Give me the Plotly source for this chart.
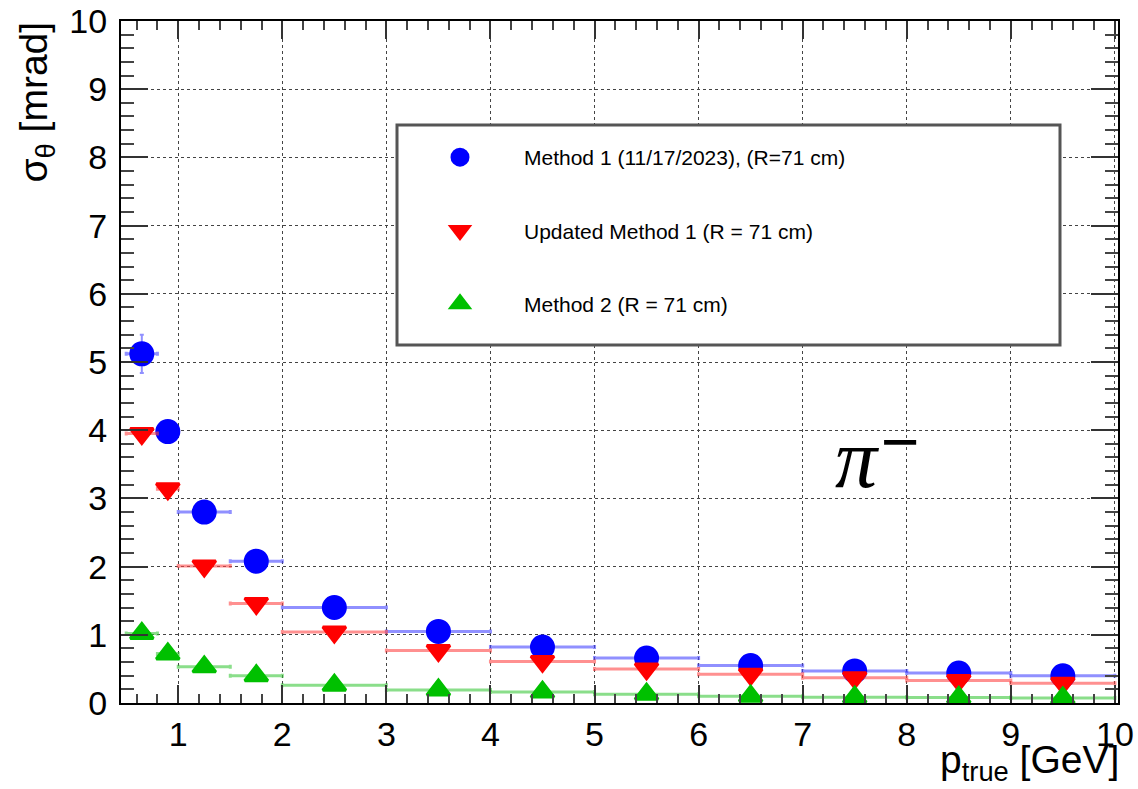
import plotly.graph_objects as go

# ---- data ----
bin_edges = [0.5, 0.8, 1.0, 1.5, 2.0, 3.0, 4.0, 5.0, 6.0, 7.0, 8.0, 9.0, 10.0]
p_centers = [(a + b) / 2 for a, b in zip(bin_edges[:-1], bin_edges[1:])]
p_halfwidth = [(b - a) / 2 for a, b in zip(bin_edges[:-1], bin_edges[1:])]

method1 = [5.12, 3.98, 2.80, 2.08, 1.40, 1.05, 0.82, 0.66, 0.55, 0.47, 0.44, 0.40]
method1_err = [0.28, 0.06, 0.05, 0.04, 0.03, 0.02, 0.02, 0.02, 0.02, 0.02, 0.02, 0.02]
updated1 = [3.95, 3.14, 2.01, 1.46, 1.04, 0.77, 0.61, 0.50, 0.42, 0.37, 0.33, 0.29]
updated1_err = [0.05, 0.05, 0.03, 0.03, 0.02, 0.02, 0.02, 0.02, 0.01, 0.01, 0.01, 0.01]
method2 = [1.02, 0.72, 0.53, 0.40, 0.26, 0.19, 0.16, 0.13, 0.10, 0.085, 0.08, 0.075]
method2_err = [0.03, 0.03, 0.02, 0.02, 0.01, 0.01, 0.01, 0.01, 0.01, 0.01, 0.01, 0.01]

names = ["Method 1 (11/17/2023), (R=71 cm)",
         "Updated Method 1 (R = 71 cm)",
         "Method 2 (R = 71 cm)"]
series = [method1, updated1, method2]
errors = [method1_err, updated1_err, method2_err]
colors = ["#0000ff", "#ff0000", "#00c000"]
err_colors = ["rgba(70,70,255,0.6)", "rgba(255,70,70,0.6)", "rgba(60,200,60,0.6)"]
symbols = ["circle", "triangle-down", "triangle-up"]
sizes = [22, 20, 20]

fig = go.Figure()
for i in range(3):
    fig.add_trace(go.Scatter(
        x=p_centers, y=series[i], mode="markers", name=names[i],
        legendgroup="g%d" % i,
        marker=dict(symbol=symbols[i], size=sizes[i], color=colors[i],
                    line=dict(color=colors[i], width=3)),
        error_x=dict(type="data", array=p_halfwidth, color=err_colors[i],
                     thickness=3, width=2),
        error_y=dict(type="data", array=errors[i], color=err_colors[i],
                     thickness=2, width=2),
        cliponaxis=False,
    ))

W, H = 1138, 789
PL, PR, PT, PB = 121, 1118, 21, 703          # plot area in pixels
L, T, R, B = PL, PT, W - PR, H - PB
pw, ph = PR - PL, PB - PT

def px(x):
    return (x - PL) / pw

def py(y):
    return (PB - y) / ph

axis_common = dict(
    showline=True, linecolor="black", linewidth=2, mirror="ticks",
    ticks="inside", tickcolor="#333", tickwidth=2,
    showgrid=True, gridcolor="#444", gridwidth=1, griddash="dot",
    zeroline=False, automargin=False, ticklabeloverflow="allow",
    tickfont=dict(family="Liberation Sans, Arial", size=34, color="black"),
)

fig.update_xaxes(range=[0.45, 10.03], tick0=0, dtick=1, ticklen=18,
                 minor=dict(ticks="inside", dtick=0.2, ticklen=9,
                            tickcolor="#444", tickwidth=1.5, showgrid=False),
                 **axis_common)
fig.update_yaxes(range=[0, 10], tick0=0, dtick=1, ticklen=27,
                 minor=dict(ticks="inside", dtick=0.2, ticklen=13,
                            tickcolor="#444", tickwidth=1.5, showgrid=False),
                 ticklabelstandoff=5,
                 **axis_common)

fig.add_shape(type="rect", xref="paper", yref="paper",
              x0=px(397), x1=px(1060), y0=py(345), y1=py(125),
              line=dict(color="#555", width=3), fillcolor="white", layer="above")

fig.add_annotation(xref="paper", yref="paper", x=px(36), y=py(20),
                   xanchor="center", yanchor="top", textangle=-90,
                   text="σ<sub>θ</sub> [mrad]", showarrow=False,
                   font=dict(family="Liberation Sans, Arial", size=39, color="black"))
fig.add_annotation(xref="paper", yref="paper", x=px(1121), y=py(736),
                   xanchor="right", yanchor="top",
                   text="p<sub>true</sub> [GeV]", showarrow=False,
                   font=dict(family="Liberation Sans, Arial", size=39, color="black"))
fig.add_annotation(xref="paper", yref="paper", x=px(857), y=py(458),
                   xanchor="center", yanchor="middle",
                   text="<i>π</i>", showarrow=False,
                   font=dict(family="Liberation Serif, Times New Roman", size=84, color="black"))
fig.add_annotation(xref="paper", yref="paper", x=px(900), y=py(441),
                   xanchor="center", yanchor="middle",
                   text="−", showarrow=False,
                   font=dict(family="Liberation Sans, Arial", size=66, color="black"))

fig.update_layout(
    width=W, height=H,
    margin=dict(l=L, r=R, t=T, b=B, autoexpand=False),
    paper_bgcolor="white", plot_bgcolor="white",
    showlegend=True,
    legend=dict(x=px(396), y=py(137), xanchor="left", yanchor="top",
                bgcolor="rgba(0,0,0,0)", borderwidth=0,
                itemwidth=118, tracegroupgap=43,
                font=dict(family="Liberation Sans, Arial", size=21, color="black")),
)

fig.write_html("out.html", config={"displayModeBar": False},
               post_script="document.body.style.margin='0px';")
